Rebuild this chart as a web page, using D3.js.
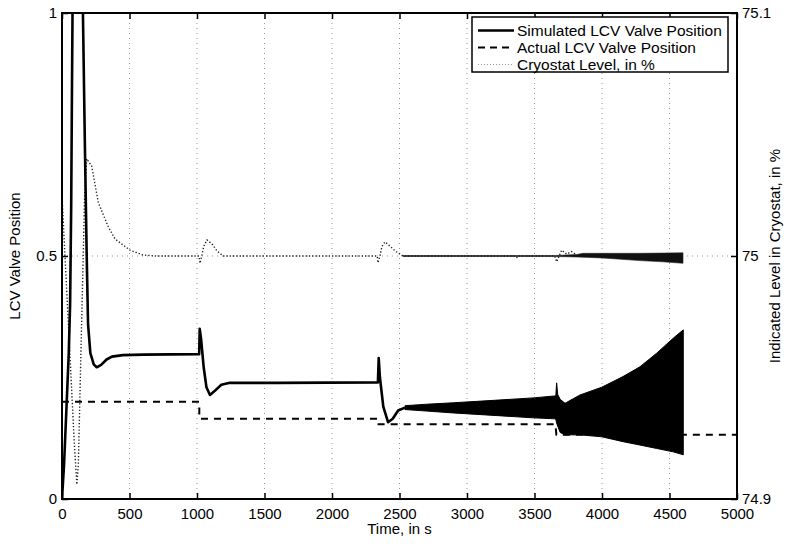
<!DOCTYPE html>
<html>
<head>
<meta charset="utf-8">
<script src="https://cdn.jsdelivr.net/npm/d3@7"></script>
<style>
  body { margin: 0; background: #fff; }
  svg { display: block; font-family: "Liberation Sans", Arial, sans-serif; }
  .axis text { font-size: 15px; fill: #000; }
  .axis line { stroke: #000; stroke-width: 1.5; }
</style>
</head>
<body>
<svg id="chart"></svg>
<script>
// simulated valve position (smooth part)
const simTime  = [0, 15, 35, 50, 60, 68, 74, 78, 100, 123, 140, 155, 170, 183, 193, 210, 235, 257, 290, 330, 370, 450, 600, 1016,
                  1020, 1030, 1050, 1070, 1096, 1130, 1180, 1244, 1600, 2340, 2346, 2355, 2380, 2415, 2450, 2490, 2541];
const simValue = [0, 0.07, 0.2, 0.3, 0.4, 0.6, 0.85, 1.0, 1.32, 1.56, 1.3, 1.0, 0.72, 0.5, 0.36, 0.3, 0.277, 0.271, 0.276, 0.287, 0.293, 0.296, 0.297, 0.298,
                  0.35, 0.33, 0.27, 0.23, 0.214, 0.222, 0.235, 0.239, 0.239, 0.24, 0.29, 0.25, 0.19, 0.158, 0.165, 0.182, 0.188];

// simulated valve position (oscillating part, envelope)
const simBandTime  = [2541, 2700, 2900, 3200, 3490, 3650, 3658, 3664, 3672, 3690, 3726, 3837, 3998, 4156, 4281, 4405, 4528, 4602];
const simBandUpper = [0.192, 0.195, 0.198, 0.203, 0.208, 0.212, 0.213, 0.239, 0.215, 0.205, 0.197, 0.214, 0.230, 0.252, 0.272, 0.300, 0.331, 0.348];
const simBandLower = [0.184, 0.181, 0.177, 0.172, 0.167, 0.165, 0.164, 0.156, 0.150, 0.137, 0.132, 0.132, 0.128, 0.118, 0.111, 0.104, 0.097, 0.091];

// actual valve position
const actualTime  = [0, 1017, 1017, 2345, 2345, 3655, 3662, 5000];
const actualValue = [0.2, 0.2, 0.165, 0.165, 0.154, 0.154, 0.132, 0.132];

// cryostat level, in %
const levelTime  = [0, 22, 60, 90, 110, 121, 140, 158, 168, 183, 220, 269, 343, 393, 504, 600, 700, 1015,
                    1022, 1035, 1050, 1074, 1110, 1150, 1193, 2335, 2341, 2355, 2370, 2393, 2430, 2470, 2526,
                    3360, 3370, 3380, 3650, 3664, 3701, 3738, 3775, 3812];
const levelValue = [75.025, 75.0, 74.958, 74.924, 74.906, 74.914, 74.96, 75.002, 75.026, 75.04, 75.037, 75.022, 75.012, 75.007, 75.0024, 75.0004, 75.0, 75.0,
                    74.997, 75.0, 75.004, 75.0066, 75.005, 75.002, 75.0, 75.0, 74.9972, 75.0, 75.004, 75.0058, 75.004, 75.002, 75.0,
                    75.0, 74.9994, 75.0, 75.0, 74.9976, 75.0024, 75.0008, 75.0018, 75.0004];

// cryostat level oscillation envelope
const levelBandTime  = [2526, 3360, 3650, 3812, 3860, 4000, 4281, 4450, 4600];
const levelBandUpper = [75.0002, 75.0002, 75.0002, 75.0006, 75.0011, 75.0011, 75.0011, 75.0012, 75.0013];
const levelBandLower = [74.9998, 74.9998, 74.9998, 74.9996, 74.9995, 74.9992, 74.9981, 74.9976, 74.997];

// ticks and labels
const xTicks = [0, 500, 1000, 1500, 2000, 2500, 3000, 3500, 4000, 4500, 5000];
const leftTicks = [0, 0.5, 1];
const leftTickLabels = ['0', '0.5', '1'];
const rightTicks = [74.9, 75, 75.1];
const rightTickLabels = ['74.9', '75', '75.1'];
const legendLabels = ['Simulated LCV Valve Position', 'Actual LCV Valve Position', 'Cryostat Level, in %'];

const fullWidth = 794, fullHeight = 544;
const margin = { top: 13, right: 57, bottom: 45, left: 62 };
const width = fullWidth - margin.left - margin.right;
const height = fullHeight - margin.top - margin.bottom;

const xScale = d3.scaleLinear().domain([0, 5000]).range([0, width]);
const yLeft = d3.scaleLinear().domain([0, 1]).range([height, 0]);
const yRight = d3.scaleLinear().domain([74.9, 75.1]).range([height, 0]);

const svg = d3.select('#chart')
    .attr('width', fullWidth)
    .attr('height', fullHeight)
    .append('g')
    .attr('transform', `translate(${margin.left},${margin.top})`);

svg.append('clipPath').attr('id', 'plot-clip')
    .append('rect').attr('width', width).attr('height', height);

//grid lines
svg.append('g')
    .selectAll('line')
    .data(xTicks.slice(1, -1))
    .join('line')
    .attr('x1', d => xScale(d)).attr('x2', d => xScale(d))
    .attr('y1', 0).attr('y2', height)
    .attr('stroke', '#999').attr('stroke-width', 1)
    .attr('stroke-dasharray', '1,4');

svg.append('line')
    .attr('x1', 0).attr('x2', width)
    .attr('y1', yLeft(0.5)).attr('y2', yLeft(0.5))
    .attr('stroke', '#999').attr('stroke-width', 1)
    .attr('stroke-dasharray', '1,4');

const plot = svg.append('g').attr('clip-path', 'url(#plot-clip)');

//cryostat level
const levelLine = d3.line()
    .x((d, i) => xScale(levelTime[i]))
    .y(d => yRight(d));

plot.append('path')
    .datum(levelValue)
    .attr('fill', 'none')
    .attr('stroke', '#222')
    .attr('stroke-width', 1.4)
    .attr('stroke-dasharray', '1.3,2')
    .attr('d', levelLine);

const levelArea = d3.area()
    .x((d, i) => xScale(levelBandTime[i]))
    .y0((d, i) => yRight(levelBandLower[i]))
    .y1((d, i) => yRight(levelBandUpper[i]));

plot.append('path')
    .datum(levelBandTime)
    .attr('fill', '#111')
    .attr('stroke', '#222')
    .attr('stroke-width', 0.6)
    .attr('d', levelArea);

//actual valve position
const actualLine = d3.line()
    .x((d, i) => xScale(actualTime[i]))
    .y(d => yLeft(d));

plot.append('path')
    .datum(actualValue)
    .attr('fill', 'none')
    .attr('stroke', '#000')
    .attr('stroke-width', 2)
    .attr('stroke-dasharray', '7,6')
    .attr('d', actualLine);

//simulated valve position
const simLine = d3.line()
    .x((d, i) => xScale(simTime[i]))
    .y(d => yLeft(d));

plot.append('path')
    .datum(simValue)
    .attr('fill', 'none')
    .attr('stroke', '#000')
    .attr('stroke-width', 2.6)
    .attr('stroke-linejoin', 'round')
    .attr('d', simLine);

const simArea = d3.area()
    .x((d, i) => xScale(simBandTime[i]))
    .y0((d, i) => yLeft(simBandLower[i]))
    .y1((d, i) => yLeft(simBandUpper[i]));

plot.append('path')
    .datum(simBandTime)
    .attr('fill', '#000')
    .attr('stroke', '#000')
    .attr('stroke-width', 1)
    .attr('stroke-linejoin', 'round')
    .attr('d', simArea);

//x-axis
svg.append('g')
    .attr('class', 'axis x-axis')
    .attr('transform', `translate(0,${height})`)
    .call(d3.axisBottom(xScale).tickValues(xTicks).tickSize(-6).tickPadding(9).tickFormat(d3.format('d')))
    .call(g => g.select('.domain').remove());

svg.append('g')
    .attr('class', 'axis')
    .call(d3.axisTop(xScale).tickValues(xTicks).tickSize(-6).tickFormat(''))
    .call(g => g.select('.domain').remove());

//y-axes
svg.append('g')
    .attr('class', 'axis y-axis')
    .call(d3.axisLeft(yLeft).tickValues(leftTicks).tickSize(-6).tickPadding(5)
        .tickFormat((d, i) => leftTickLabels[i]))
    .call(g => g.select('.domain').remove());

svg.append('g')
    .attr('class', 'axis y-axis-right')
    .attr('transform', `translate(${width},0)`)
    .call(d3.axisRight(yRight).tickValues(rightTicks).tickSize(-6).tickPadding(5)
        .tickFormat((d, i) => rightTickLabels[i]))
    .call(g => g.select('.domain').remove());

//frame
svg.append('rect')
    .attr('width', width).attr('height', height)
    .attr('fill', 'none').attr('stroke', '#000').attr('stroke-width', 2);

//axis titles
svg.append('text')
    .attr('x', width / 2).attr('y', height + 35)
    .attr('text-anchor', 'middle')
    .style('font-size', '15px')
    .text('Time, in s');

svg.append('text')
    .attr('transform', `translate(${-42},${height / 2}) rotate(-90)`)
    .attr('text-anchor', 'middle')
    .style('font-size', '15px')
    .text('LCV Valve Position');

svg.append('text')
    .attr('transform', `translate(${width + 43},${height / 2}) rotate(-90)`)
    .attr('text-anchor', 'middle')
    .style('font-size', '15px')
    .text('Indicated Level in Cryostat, in %');

//legend
const legend = svg.append('g')
    .attr('transform', `translate(${472 - margin.left},${17 - margin.top})`);

legend.append('rect')
    .attr('width', 256).attr('height', 55)
    .attr('fill', '#fff').attr('stroke', '#000').attr('stroke-width', 1.5);

const legendStyles = [
    { stroke: '#000', width: 2.4, dash: null },
    { stroke: '#000', width: 2, dash: '7,5' },
    { stroke: '#999', width: 1, dash: '1,2' }
];
const rowY = [13.5, 30.5, 47.5];

legendLabels.forEach((label, i) => {
    legend.append('line')
        .attr('x1', 6).attr('x2', 42)
        .attr('y1', rowY[i]).attr('y2', rowY[i])
        .attr('stroke', legendStyles[i].stroke)
        .attr('stroke-width', legendStyles[i].width)
        .attr('stroke-dasharray', legendStyles[i].dash);
    legend.append('text')
        .attr('x', 45).attr('y', rowY[i])
        .attr('dy', '0.36em')
        .style('font-size', '15.5px')
        .text(label);
});
</script>
</body>
</html>
